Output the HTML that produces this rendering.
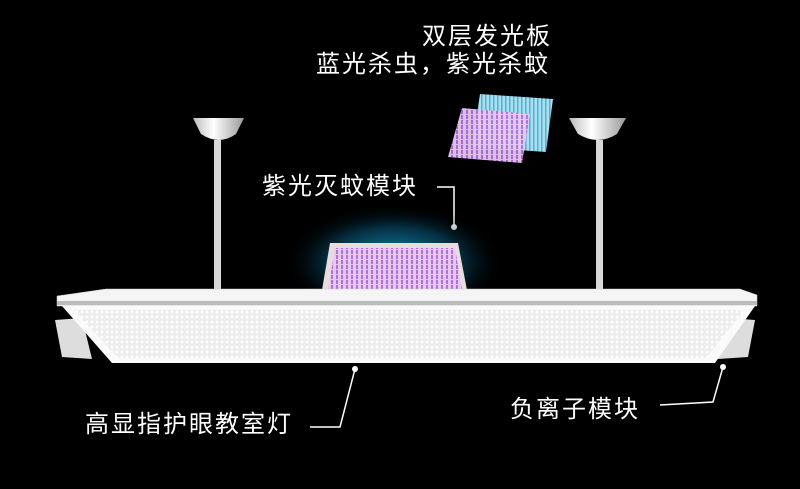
<!DOCTYPE html>
<html><head><meta charset="utf-8"><style>
html,body{margin:0;padding:0;background:#000;}
svg{display:block}
text{font-family:"Liberation Sans","Noto Sans CJK SC",sans-serif;fill:#fff;letter-spacing:2px;}
</style></head><body>
<svg width="800" height="489" viewBox="0 0 800 489" xmlns="http://www.w3.org/2000/svg">
<defs>
<pattern id="grid" width="5" height="5" patternUnits="userSpaceOnUse">
<rect width="5" height="5" fill="#f4f4f4"/><rect x="0" y="0" width="4" height="4" fill="#fff" stroke="#d8d8d8" stroke-width="0.6"/>
</pattern>
<pattern id="pgrid" width="5" height="5" patternUnits="userSpaceOnUse">
<rect width="5" height="5" fill="#e6c8f0"/><rect x="1" y="0" width="2" height="4" fill="#b070e0"/>
</pattern>
<pattern id="bgrid" width="4" height="4" patternUnits="userSpaceOnUse">
<rect width="4" height="4" fill="#a8e0ee"/><rect x="1" y="0" width="1.5" height="4" fill="#50b0d8"/>
</pattern>
<radialGradient id="glow" cx="0.5" cy="0.5" r="0.5">
<stop offset="0" stop-color="#1aa8d8" stop-opacity="0.95"/>
<stop offset="0.6" stop-color="#0a6088" stop-opacity="0.5"/>
<stop offset="1" stop-color="#000" stop-opacity="0"/>
</radialGradient>
<linearGradient id="cup" x1="0" x2="1"><stop offset="0" stop-color="#bbb"/><stop offset="0.4" stop-color="#fff"/><stop offset="1" stop-color="#999"/></linearGradient>
</defs>

<text x="422" y="44" font-size="24">双层发光板</text>
<text x="316" y="72" font-size="24">蓝光杀虫，紫光杀蚊</text>

<polygon points="480,94 553,99 546,152 472,147" fill="url(#bgrid)"/>
<polygon points="462,108 530,114 522,163 448,157" fill="url(#pgrid)" opacity="0.95"/>

<path d="M193,118 L244,118 L236,134 Q219,146 201,134 Z" fill="url(#cup)"/>
<rect x="214" y="140" width="7" height="150" fill="#d8d8d8"/>
<path d="M569,118 L626,118 L617,134 Q598,146 578,134 Z" fill="url(#cup)"/>
<rect x="596" y="140" width="7" height="150" fill="#d8d8d8"/>

<text x="262" y="194" font-size="24">紫光灭蚊模块</text>
<polyline points="437,187 454,187 454,226" fill="none" stroke="#fff" stroke-width="1.5"/>
<circle cx="454" cy="227" r="3" fill="#fff"/>

<ellipse cx="394" cy="262" rx="110" ry="58" fill="url(#glow)"/>
<polygon points="330,243 458,243 467,290 322,290" fill="#e8dcdc"/>
<polygon points="335,248 455,248 462,290 328,290" fill="url(#pgrid)"/>

<polygon points="55,320 82,318 92,359 62,357" fill="#ddd"/>
<polygon points="728,318 755,320 748,357 718,359" fill="#ddd"/>
<polygon points="57,296 106,289 740,289 757,295 757,306 57,306" fill="#f4f4f4" stroke="#ccc" stroke-width="0.5"/>
<rect x="57" y="301" width="700" height="4" fill="#bbb"/>
<polygon points="62,306 755,306 715,363 112,363" fill="#fafafa"/>
<polygon points="74,310 744,310 706,358 118,358" fill="url(#grid)"/>

<circle cx="355" cy="369" r="3" fill="#fff"/>
<polyline points="355,369 340,427 310,427" fill="none" stroke="#fff" stroke-width="1.5"/>
<text x="85" y="432" font-size="24">高显指护眼教室灯</text>

<circle cx="723" cy="367" r="3" fill="#fff"/>
<polyline points="723,367 713,402 660,405" fill="none" stroke="#fff" stroke-width="1.5"/>
<text x="510" y="417" font-size="24">负离子模块</text>
</svg>
</body></html>
